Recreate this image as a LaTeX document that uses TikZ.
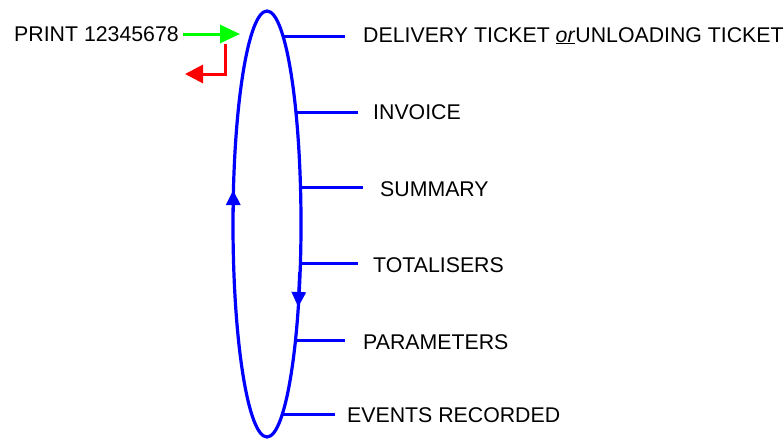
\documentclass[tikz,border=0pt]{standalone}
\usepackage{fontspec}
\setmainfont{Liberation Sans}
\usetikzlibrary{shapes.geometric,arrows.meta}
\definecolor{loopblue}{RGB}{0,0,255}
\definecolor{printgreen}{RGB}{0,255,0}
\definecolor{backred}{RGB}{255,0,0}
\tikzset{
  lbl/.style={anchor=base west,inner sep=0pt,font=\fontsize{21.3}{25}\selectfont},
  branch/.style={draw=loopblue,line width=3pt},
  dirtip/.style={-{Triangle[length=15pt,width=14pt]},draw=loopblue,line width=3pt}
}
\begin{document}
\begin{tikzpicture}[x=1pt,y=-1pt]
\useasboundingbox (0,0) rectangle (784,439);
% the print cycle
\node[draw=loopblue,line width=3.2pt,ellipse,inner sep=0pt,
      minimum width=68pt,minimum height=426pt] (loop) at (267,224) {};
% points on the cycle where the branches start
\coordinate (p1) at (283.0,36);
\coordinate (p2) at (295.9,112);
\coordinate (p3) at (300.5,187);
\coordinate (p4) at (300.4,263);
\coordinate (p5) at (295.5,340);
\coordinate (p6) at (282.4,414);
% direction of travel
\draw[dirtip] (233.2,212) -- (233.2,190);
\draw[dirtip] (299.6,272) -- (298.2,307);
% labels
\node[lbl] (t1) at (363,42) {DELIVERY TICKET \underline{\textit{or}}UNLOADING TICKET};
\node[lbl] (t2) at (373,119) {INVOICE};
\node[lbl] (t3) at (380,196) {SUMMARY};
\node[lbl] (t4) at (373,272) {TOTALISERS};
\node[lbl] (t5) at (363,349) {PARAMETERS};
\node[lbl] (t6) at (347,422) {EVENTS RECORDED};
% branches
\draw[branch] (p1) -- ([xshift=-18pt]p1 -| t1.west);
\draw[branch] (p2) -- ([xshift=-15pt]p2 -| t2.west);
\draw[branch] (p3) -- ([xshift=-17pt]p3 -| t3.west);
\draw[branch] (p4) -- ([xshift=-15pt]p4 -| t4.west);
\draw[branch] (p5) -- ([xshift=-18pt]p5 -| t5.west);
\draw[branch] (p6) -- ([xshift=-12pt]p6 -| t6.west);
% print entry and return
\node[lbl] (pr) at (14,41) {PRINT 12345678};
\coordinate (gin) at (240,34);
\draw[printgreen,line width=3pt,-{Triangle[length=20pt,width=18pt]}]
  ([xshift=4pt]pr.east |- gin) -- (gin);
\coordinate (rtop) at (225,44);
\coordinate (rend) at (185,74);
\draw[backred,line width=3pt,-{Triangle[length=18pt,width=18pt]}]
  (rtop) |- (rend);
\end{tikzpicture}
\end{document}
